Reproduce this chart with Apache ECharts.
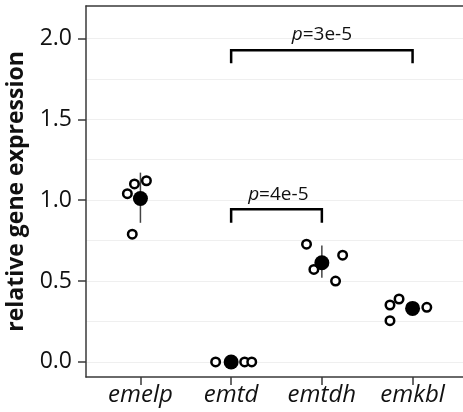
<!DOCTYPE html>
<html>
<head>
<meta charset="utf-8">
<script src="https://cdn.jsdelivr.net/npm/echarts@6/dist/echarts.min.js"></script>
<style>
html, body { margin: 0; padding: 0; background: #fff; }
#main { width: 463px; height: 412px; }
</style>
</head>
<body>
<div id="main"></div>
<script>
var categories = ['emelp', 'emtd', 'emtdh', 'emkbl']
var catPos = [1, 2, 3, 4]
var meanValues = [1.01, 0.0, 0.613, 0.331]
var errLow = [0.86, 0.0, 0.52, 0.30]
var errHigh = [1.17, 0.0, 0.72, 0.37]

// replicate points (jittered x position, value)
var repX = [0.856, 0.934, 1.066, 0.91, 1.829, 2.0, 2.149, 2.227, 2.831, 2.912, 3.229, 3.151, 3.751, 3.851, 3.751, 4.157]
var repY = [1.04, 1.10, 1.12, 0.79, 0, 0, 0, 0, 0.728, 0.572, 0.66, 0.50, 0.352, 0.389, 0.255, 0.338]

var yTicks = [0, 0.5, 1.0, 1.5, 2.0]
var gridLines = [0, 0.25, 0.5, 0.75, 1.0, 1.25, 1.5, 1.75, 2.0]

// significance brackets: from, to, top, tick bottom, label
var brFrom = [2, 2]
var brTo = [3, 4]
var brTop = [0.944, 1.926]
var brBottom = [0.86, 1.846]
var brLabel = ['4e-5', '3e-5']
var brLabelX = [2.52, 3.0]
var brLabelY = [0.975, 1.963]

var font = '"Open Sans", sans-serif'

var chart = echarts.init(document.getElementById('main'))

var option = {
	animation: false,
	grid: { left: 86, right: -4, top: 6, bottom: 35, outerBoundsMode: 'none', containLabel: false },
	xAxis: [{
		type: 'value',
		min: 0.4,
		max: 4.6,
		axisLine: { show: true, onZero: false, lineStyle: { color: '#3a3a3a', width: 1.5 } },
		axisTick: { show: true, length: 8, customValues: catPos, lineStyle: { color: '#3a3a3a', width: 1.5 } },
		axisLabel: {
			customValues: catPos,
			formatter: function(v) { return categories[Math.round(v) - 1] },
			fontFamily: font,
			fontStyle: 'italic',
			fontSize: 24,
			color: '#111',
			margin: 6
		},
		splitLine: { show: false }
	}, {
		type: 'value',
		position: 'top',
		min: 0.4,
		max: 4.6,
		axisLine: { show: true, onZero: false, lineStyle: { color: '#3a3a3a', width: 1.5 } },
		axisTick: { show: false },
		axisLabel: { show: false },
		splitLine: { show: false }
	}],
	yAxis: {
		type: 'value',
		min: -0.093,
		max: 2.2,
		name: 'relative gene expression',
		nameLocation: 'middle',
		nameGap: 58,
		nameTextStyle: { fontFamily: font, fontWeight: 'bold', fontSize: 23, color: '#111' },
		axisLine: { show: true, onZero: false, lineStyle: { color: '#3a3a3a', width: 1.5 } },
		axisTick: { show: true, length: 8, customValues: yTicks, lineStyle: { color: '#3a3a3a', width: 1.5 } },
		axisLabel: {
			customValues: yTicks,
			formatter: function(v) { return v.toFixed(1) },
			fontFamily: font,
			fontSize: 23,
			color: '#111',
			margin: 14
		},
		splitLine: { show: false }
	},
	series: [{
		type: 'line',
		data: [],
		silent: true,
		z: 0,
		markLine: {
			silent: true,
			z: 0,
			symbol: 'none',
			label: { show: false },
			lineStyle: { color: '#efefef', width: 1, type: 'solid' },
			data: gridLines.map(function(v) { return { yAxis: v } })
		}
	}, {
		type: 'custom',
		silent: true,
		z: 2,
		data: catPos.map(function(x, i) { return [x, errLow[i], errHigh[i]] }),
		renderItem: function(params, api) {
			var a = api.coord([api.value(0), api.value(1)])
			var b = api.coord([api.value(0), api.value(2)])
			return {
				type: 'line',
				shape: { x1: a[0], y1: a[1], x2: b[0], y2: b[1] },
				style: { stroke: '#444', lineWidth: 1.5 }
			}
		}
	}, {
		type: 'scatter',
		silent: true,
		z: 3,
		symbol: 'circle',
		symbolSize: 8.5,
		data: repX.map(function(x, i) { return [x, repY[i]] }),
		itemStyle: { color: '#fff', borderColor: '#000', borderWidth: 2.5, opacity: 1 }
	}, {
		type: 'scatter',
		silent: true,
		z: 4,
		symbol: 'circle',
		symbolSize: 15,
		data: catPos.map(function(x, i) { return [x, meanValues[i]] }),
		itemStyle: { color: '#000', opacity: 1 }
	}, {
		type: 'custom',
		silent: true,
		z: 5,
		data: brFrom.map(function(x, i) { return [x, brTo[i], brTop[i], brBottom[i], brLabelX[i], brLabelY[i], i] }),
		renderItem: function(params, api) {
			var x1 = api.value(0), x2 = api.value(1), top = api.value(2), bot = api.value(3)
			var pts = [
				api.coord([x1, bot]), api.coord([x1, top]),
				api.coord([x2, top]), api.coord([x2, bot])
			]
			var lp = api.coord([api.value(4), api.value(5)])
			return {
				type: 'group',
				children: [{
					type: 'polyline',
					shape: { points: pts },
					style: { stroke: '#000', lineWidth: 2.5, fill: null }
				}, {
					type: 'text',
					x: lp[0],
					y: lp[1],
					style: {
						text: '{i|p}=' + brLabel[api.value(6)],
						align: 'center',
						verticalAlign: 'bottom',
						fontFamily: font,
						fontSize: 19,
						fill: '#111',
						rich: { i: { fontStyle: 'italic', fontFamily: font, fontSize: 19, fill: '#111' } }
					}
				}]
			}
		}
	}]
}

chart.setOption(option)
</script>
</body>
</html>
